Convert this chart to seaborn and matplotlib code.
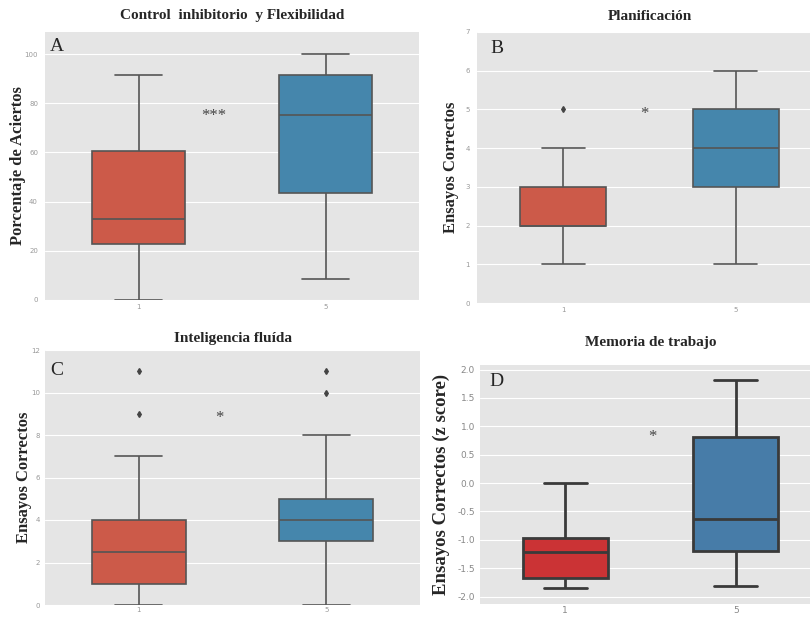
import numpy as np
import pandas as pd
import matplotlib.pyplot as plt
import seaborn as sns

# ===== DATA =====
groups = ["1", "5"]

# A: Control inhibitorio y Flexibilidad (% aciertos)
ctrl_g1 = [0, 22.8, 33, 60.4, 91.7]
ctrl_g5 = [8.4, 43.7, 75.2, 91.4, 100]
# B: Planificacion (ensayos correctos)
plan_g1 = [1, 2, 2, 2, 2, 3, 3, 4, 5]
plan_g5 = [1, 3, 4, 5, 6]
# C: Inteligencia fluida (ensayos correctos)
intel_g1 = [0, 0.5, 1, 1, 2, 2.5, 2.5, 3, 4, 4, 7, 9, 11]
intel_g5 = [0, 2, 3, 3, 3, 4, 4, 4, 5, 5, 8, 10, 11]
# D: Memoria de trabajo (z score)
mem_g1 = [-1.84, -1.68, -1.22, -0.96, 0.0]
mem_g5 = [-1.82, -1.2, -0.63, 0.82, 1.81]

titles = ["Control  inhibitorio  y Flexibilidad", "Planificación",
          "Inteligencia fluída", "Memoria de trabajo"]
ylabels = ["Porcentaje de Aciertos", "Ensayos Correctos",
           "Ensayos Correctos", "Ensayos Correctos (z score)"]
letters = ["A", "B", "C", "D"]
stars = ["***", "*", "*", "*"]
star_pos = [(0.40, 75), (0.47, 4.88), (0.43, 8.8), (0.51, 0.82)]


def long_df(g1, g5):
    return pd.DataFrame({"grupo": ["1"] * len(g1) + ["5"] * len(g5),
                         "valor": g1 + g5})


# ===== STYLE =====
sns.set_style("darkgrid", {"axes.facecolor": "#E5E5E5", "grid.color": "white",
                           "axes.edgecolor": "#E5E5E5"})
serif = "Liberation Serif"

fig = plt.figure(figsize=(8.1, 6.18), dpi=100)
W, H = 810, 618


def add_ax(left, top, right, bottom):
    return fig.add_axes([left / W, 1 - bottom / H, (right - left) / W, (bottom - top) / H])


axes = [add_ax(45, 32, 419, 300), add_ax(477, 32, 822, 303),
        add_ax(45, 350, 420, 605), add_ax(480, 365, 821, 604)]

datasets = [(ctrl_g1, ctrl_g5), (plan_g1, plan_g5), (intel_g1, intel_g5), (mem_g1, mem_g5)]
ylims = [(0, 109), (0, 7), (0, 12), (-2.13, 2.08)]
yticks = [np.arange(0, 101, 20), np.arange(0, 8, 1), np.arange(0, 13, 2),
          np.arange(-2.0, 2.01, 0.5)]

# per-panel layout tweaks
ylab_size = [12, 12, 12, 13.5]
ylab_pad = [-1, 5, -1, 5]
ytick_pad = [5, 5, 3.6, 3.6]
xtick_pad = [3, 3, 1.5, 1.5]
title_pad = [9, 9, 6, 14]
letter_xy = [(0.013, 6), (0.04, 8), (0.013, 12), (0.028, 8)]

for i, ax in enumerate(axes):
    df = long_df(*datasets[i])
    if i < 3:
        pal = ["#E24A33", "#348ABD"]
        lw, lc = 1.2, "#555555"
    else:
        pal = ["#E41A1C", "#377EB8"]
        lw, lc = 2.0, "#3a3a3a"
    sns.boxplot(data=df, x="grupo", y="valor", hue="grupo", order=groups,
                palette=pal, width=0.5, linewidth=lw, linecolor=lc,
                fliersize=3, legend=False, ax=ax,
                flierprops={"marker": "d", "markerfacecolor": "#444444",
                            "markeredgecolor": "#444444"})
    ax.set_xlim(-0.5, 1.5)
    ax.set_ylim(*ylims[i])
    ax.set_yticks(yticks[i])
    if i == 3:
        ax.set_yticklabels([f"{v:.1f}" for v in yticks[i]])
        ax.tick_params(labelsize=6.5, colors="#888888", length=0)
    else:
        ax.tick_params(labelsize=5, colors="#999999", length=0)
    ax.tick_params(axis="y", pad=ytick_pad[i])
    ax.tick_params(axis="x", pad=xtick_pad[i])
    ax.set_xlabel("")
    ax.set_ylabel(ylabels[i], fontsize=ylab_size[i], fontweight="bold", family=serif,
                  labelpad=ylab_pad[i])
    ax.set_title(titles[i], fontsize=11, fontweight="bold", family=serif, pad=title_pad[i])
    h_px = ax.get_position().height * H
    ax.text(letter_xy[i][0], 1 - letter_xy[i][1] / h_px, letters[i], transform=ax.transAxes,
            ha="left", va="top", fontsize=14, family=serif)
    ax.text(star_pos[i][0], star_pos[i][1], stars[i], ha="center", va="center",
            fontsize=12, family=serif, color="#444444")
    for s in ax.spines.values():
        s.set_visible(False)

fig.savefig("out.png", dpi=100)
